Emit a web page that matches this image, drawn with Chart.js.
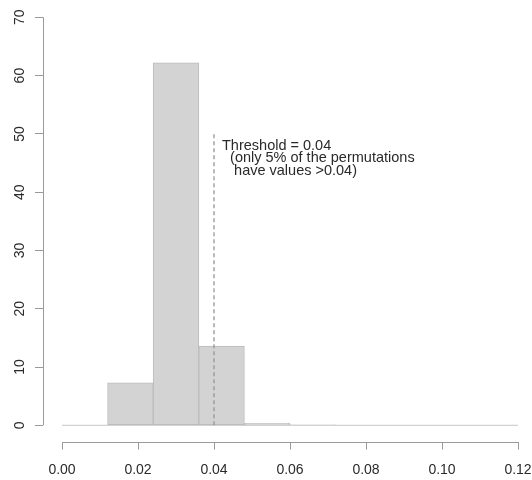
<!DOCTYPE html>
<html>
<head>
<meta charset="utf-8">
<script src="https://cdn.jsdelivr.net/npm/chart.js@4.4.1/dist/chart.umd.min.js"></script>
<style>
  html, body { margin: 0; padding: 0; background: #ffffff; }
  #wrap { width: 532px; height: 480px; }
</style>
</head>
<body>
<div id="wrap"><canvas id="chart" width="532" height="480"></canvas></div>
<script>
// Histogram of permutation statistics (density scale)
const binEdges = [0.000, 0.012, 0.024, 0.036, 0.048, 0.060, 0.072, 0.084, 0.096, 0.108, 0.120];
const densities = [0, 7.3, 62.2, 13.6, 0.33, 0.08, 0, 0, 0, 0];
const xTicks = [0.00, 0.02, 0.04, 0.06, 0.08, 0.10, 0.12];
const yTicks = [0, 10, 20, 30, 40, 50, 60, 70];
const threshold = 0.04;
const thresholdLineTop = 50;
const noteLines = [
  "Threshold = 0.04",
  "  (only 5% of the permutations",
  "   have values >0.04)"
];

const FONT = "'Liberation Sans', Arial, Helvetica, sans-serif";
const AXIS_COLOR = "#9a9a9a";
const TEXT_COLOR = "#2a2a2a";

// bars sit at bin midpoints on a linear axis
const barData = densities.map((d, i) => ({ x: (binEdges[i] + binEdges[i + 1]) / 2, y: d }));
const baseData = [{ x: binEdges[0], y: 0 }, { x: binEdges[binEdges.length - 1], y: 0 }];
const threshData = [{ x: threshold, y: 0 }, { x: threshold, y: thresholdLineTop }];

// axis lines that span only from the first to the last tick, as base graphics does
const axisLines = {
  id: "axisLines",
  afterDraw(chart) {
    const { ctx, chartArea, scales } = chart;
    const xs = scales.x, ys = scales.y;
    ctx.save();
    ctx.strokeStyle = AXIS_COLOR;
    ctx.lineWidth = 1;
    ctx.beginPath();
    const yb = Math.round(chartArea.bottom) + 0.5;
    ctx.moveTo(xs.getPixelForValue(xTicks[0]), yb);
    ctx.lineTo(xs.getPixelForValue(xTicks[xTicks.length - 1]), yb);
    const xl = Math.round(chartArea.left) + 0.5;
    ctx.moveTo(xl, ys.getPixelForValue(yTicks[0]));
    ctx.lineTo(xl, ys.getPixelForValue(yTicks[yTicks.length - 1]));
    ctx.stroke();

    // note beside the threshold line
    ctx.fillStyle = TEXT_COLOR;
    ctx.font = "14.5px " + FONT;
    ctx.textAlign = "left";
    ctx.textBaseline = "alphabetic";
    const tx = xs.getPixelForValue(threshold) + 8;
    const ty = ys.getPixelForValue(thresholdLineTop) + 16;
    noteLines.forEach((s, i) => ctx.fillText(s, tx, ty + i * 12.5));
    ctx.restore();
  }
};

new Chart(document.getElementById("chart"), {
  data: {
    datasets: [
      {
        type: "line",
        data: baseData,
        borderColor: "#c6c6c6",
        borderWidth: 1,
        pointRadius: 0,
        order: 3
      },
      {
        type: "bar",
        data: barData,
        backgroundColor: "#d3d3d3",
        borderColor: "#bcbcbc",
        borderWidth: 1,
        borderSkipped: false,
        barPercentage: 1,
        categoryPercentage: 1,
        order: 2
      },
      {
        type: "line",
        data: threshData,
        borderColor: "#959595",
        borderWidth: 1.3,
        borderDash: [4, 3],
        pointRadius: 0,
        order: 1
      }
    ]
  },
  options: {
    responsive: false,
    animation: false,
    devicePixelRatio: 1,
    layout: { padding: { top: 1, left: 0, right: 0, bottom: 0 } },
    plugins: { legend: { display: false }, tooltip: { enabled: false } },
    scales: {
      x: {
        type: "linear",
        offset: false,
        min: -0.005,
        max: 0.123684,
        afterBuildTicks: (s) => { s.ticks = xTicks.map(v => ({ value: v })); },
        afterFit: (s) => { s.height = 38.4; s.paddingLeft = 0; s.paddingRight = 0; },
        border: { display: false },
        grid: {
          offset: false,
          drawOnChartArea: false,
          drawTicks: true,
          tickLength: 8,
          color: AXIS_COLOR,
          lineWidth: 1
        },
        ticks: {
          color: TEXT_COLOR,
          font: { family: FONT, size: 14 },
          padding: 12,
          maxRotation: 0,
          minRotation: 0,
          autoSkip: false,
          callback: (v) => v.toFixed(2)
        }
      },
      y: {
        type: "linear",
        min: -2.8,
        max: 72.8,
        afterBuildTicks: (s) => { s.ticks = yTicks.map(v => ({ value: v })); },
        afterFit: (s) => { s.width = 43; s.paddingTop = 0; s.paddingBottom = 0; },
        border: { display: false },
        grid: {
          drawOnChartArea: false,
          drawTicks: true,
          tickLength: 8,
          color: AXIS_COLOR,
          lineWidth: 1
        },
        ticks: {
          color: TEXT_COLOR,
          font: { family: FONT, size: 14 },
          padding: 7,
          minRotation: 90,
          maxRotation: 90,
          crossAlign: "center",
          autoSkip: false,
          callback: (v) => String(v)
        }
      }
    }
  },
  plugins: [axisLines]
});
</script>
</body>
</html>
